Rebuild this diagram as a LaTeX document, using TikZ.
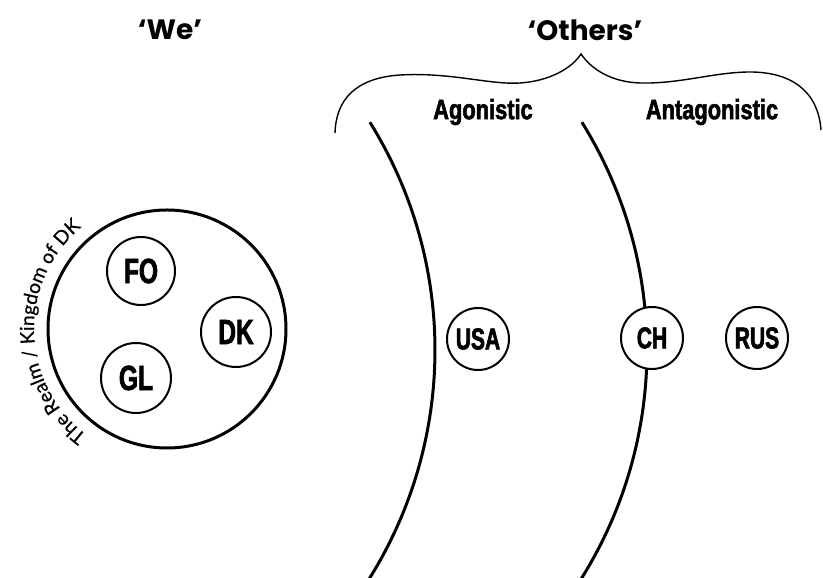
\documentclass[tikz,border=0pt]{standalone}
\usepackage{fontspec}
\usetikzlibrary{decorations.text}
\newfontfamily\titlefont{Poppins}
\newfontfamily\labelfont{Liberation Sans Bold}[FakeStretch=0.7, FakeBold=2]
\newfontfamily\headfont{Liberation Sans Bold}[FakeStretch=0.78, FakeBold=2]
\newfontfamily\arcfont{Lato}[FakeBold=0.5]
\begin{document}
\begin{tikzpicture}[x=1pt,y=1pt,
  title/.style={font=\titlefont\bfseries\fontsize{28}{30}\selectfont},
  group/.style={font=\headfont\fontsize{28}{30}\selectfont},
  member/.style={circle, draw, line width=2pt, fill=white, inner sep=0pt,
                 font=\labelfont\fontsize{35}{36}\selectfont},
  other/.style={member, minimum size=62pt, font=\labelfont\fontsize{30}{32}\selectfont},
  border/.style={line width=3pt},
  brace/.style={line width=1.4pt}]
\useasboundingbox (0,0) rectangle (823,578);

% boundaries between the groups of others
\begin{scope}
  \clip (0,0) rectangle (823,578);
  \coordinate (c1) at (4,228);
  \coordinate (c2) at (216,228);
  \draw[border] (c1) ++(31.9:431) arc[start angle=31.9, end angle=-32.5, radius=431];
  \draw[border] (c2) ++(31.9:431) arc[start angle=31.9, end angle=-32.5, radius=431];
\end{scope}

% titles
\node[title] (we) at (170,548) {‘We’};
\node[title] (others) at (585,548) {‘Others’};

% curly brace over the others
\draw[brace] (335,445) .. controls (336,478) and (355,500) .. (400,503)
  .. controls (450,506) and (490,493) .. (520,495)
  .. controls (550,497) and (572,510) .. (581,524)
  .. controls (592,508) and (612,496) .. (640,495)
  .. controls (680,494) and (715,506) .. (750,506)
  .. controls (790,506) and (818,488) .. (821,448);

\node[group] (agon) at (483,466) {Agonistic};
\node[group] (antag) at (712,466) {Antagonistic};

% the realm
\node[circle, draw, border, minimum size=238pt] (realm) at (167,249) {};
\node[member, minimum size=68pt] (fo) at (141,307) {FO};
\node[member, minimum size=70pt] (dk) at (236,246) {DK};
\node[member, minimum size=70pt] (gl) at (136,200) {GL};

\path[decorate, decoration={text along path, text align=left,
  text={|\arcfont\fontsize{19.3}{20}\selectfont|The Realm / Kingdom of DK}}]
  (realm.center) ++(233:133) arc[start angle=233, end angle=110, radius=133];

% others
\node[other] (usa) at (478,239) {USA};
\node[other] (ch) at (652,240) {CH};
\node[other] (rus) at (757,240) {RUS};
\end{tikzpicture}
\end{document}
